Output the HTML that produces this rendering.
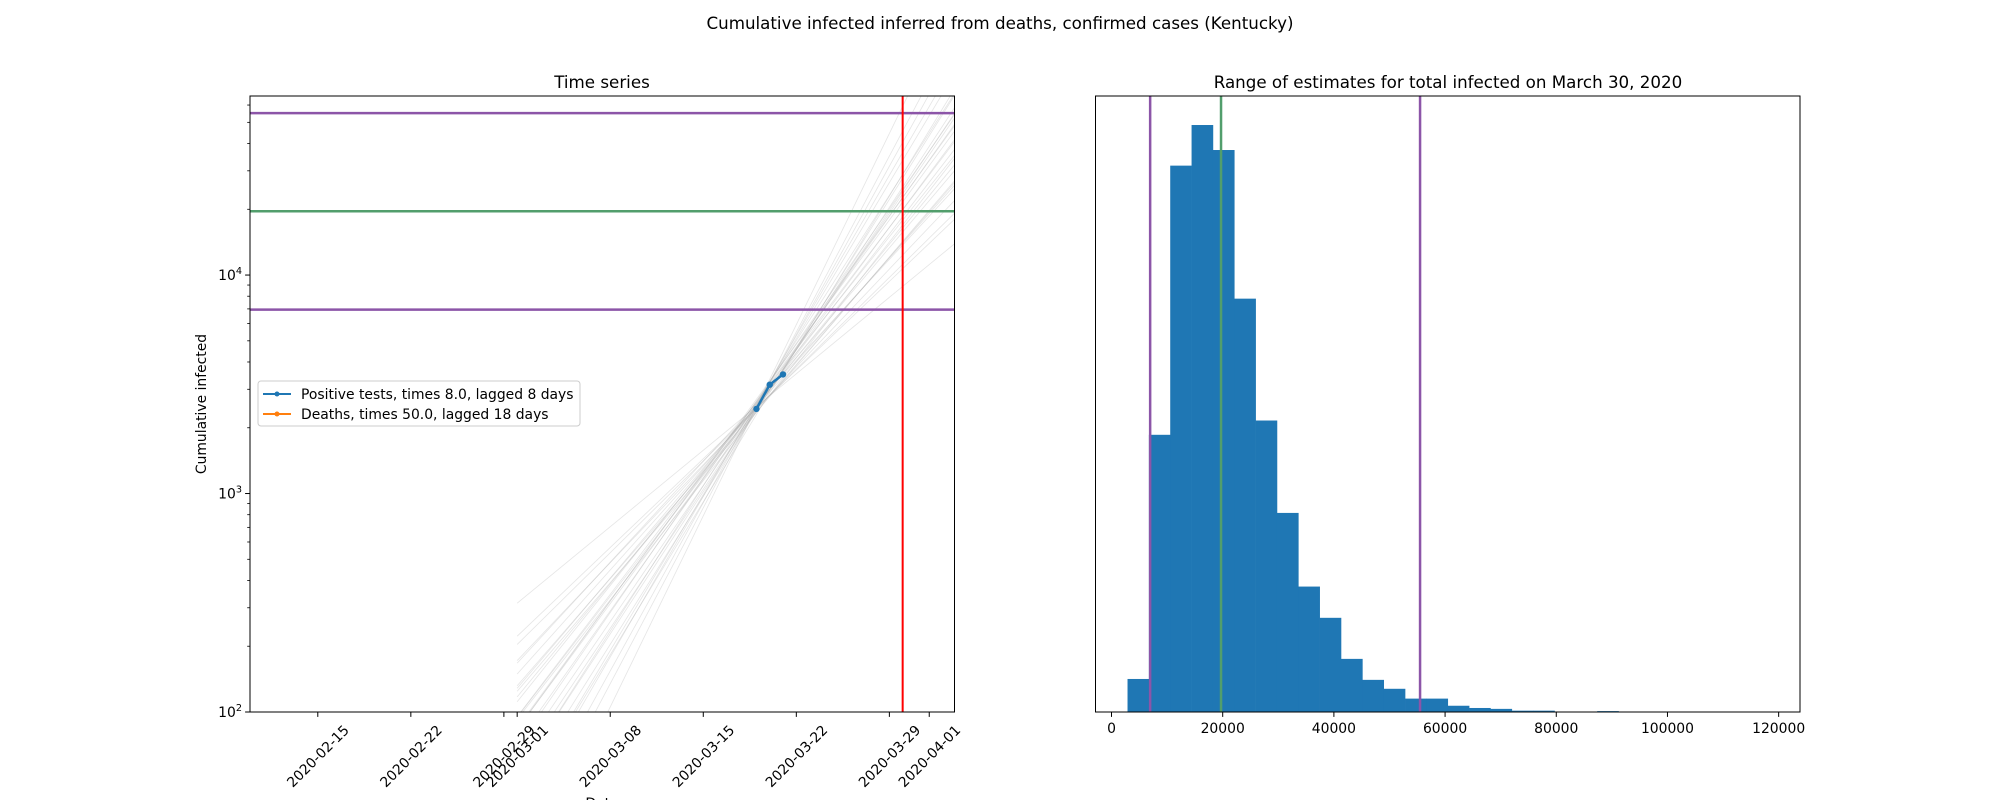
<!DOCTYPE html>
<html><head><meta charset="utf-8"><style>
body{margin:0;background:#fff;overflow:hidden}
svg{display:block;font-family:"DejaVu Sans","Liberation Sans",sans-serif}
</style></head><body>
<svg id="fig" width="2000" height="800" viewBox="0 0 2000 800" xmlns="http://www.w3.org/2000/svg">
<text x="1000" y="29" font-size="16.7" text-anchor="middle">Cumulative infected inferred from deaths, confirmed cases (Kentucky)</text>
<text x="602" y="88" font-size="16.7" text-anchor="middle">Time series</text>
<text x="1448" y="88" font-size="16.7" text-anchor="middle">Range of estimates for total infected on March 30, 2020</text>
<g id="left"></g>
<g id="right"></g>
</svg>
<script>
// ---- left chart data ----
const dateTickLabels = ["2020-02-15","2020-02-22","2020-02-29","2020-03-01","2020-03-08","2020-03-15","2020-03-22","2020-03-29","2020-04-01"];
const dateTickDays = [0,7,14,15,22,29,36,43,46]; // days since 2020-02-15
const posDays = [33,34,35];
const posValues = [2440,3150,3510];
const hLinesLeft = [55100,19600,6950];
const redLineDay = 44;
const fitPivotDay = 33;
const fitPivotValues = [2500,2400,2600,2450,2550,2350,2650,2500,2480,2520,2420,2580,2300,2700,2500,2460,2540,2380,2620,2500,2440,2560,2400,2600,2500,2470,2530,2360,2640,2500];
const fitSlopes = [0.082,0.070,0.095,0.060,0.105,0.078,0.088,0.050,0.115,0.074,0.091,0.066,0.100,0.084,0.125,0.058,0.072,0.097,0.080,0.110,0.064,0.086,0.093,0.076,0.068,0.089,0.102,0.071,0.083,0.079];

// ---- right chart data ----
const binStart = 2880, binWidth = 3840;
const binCounts = [74,621,1224,1315,1259,926,653,446,281,211,119,72,52,30,30,14,9,7,3,3,1,0,2,0,0,0,0,0,0,1];
const histTickValues = [0,20000,40000,60000,80000,100000,120000];
const histVLines = [6950,19700,55500];

const NS="http://www.w3.org/2000/svg";
function mk(parent,tag,attrs,text){const e=document.createElementNS(NS,tag);for(const k in attrs)e.setAttribute(k,attrs[k]);if(text!==undefined)e.textContent=text;parent.appendChild(e);return e;}

const L={x0:250,x1:954.5,y0:96,y1:712};
const dMin=-5.1,dMax=47.9, lMin=2, lMax=Math.log10(66000);
const xL=d=>L.x0+(d-dMin)/(dMax-dMin)*(L.x1-L.x0);
const yL=v=>L.y1-(Math.log10(v)-lMin)/(lMax-lMin)*(L.y1-L.y0);
const gl=document.getElementById('left');
const cp=mk(gl,'clipPath',{id:'clipL'});
mk(cp,'rect',{x:L.x0,y:L.y0,width:L.x1-L.x0,height:L.y1-L.y0});
const plotL=mk(gl,'g',{'clip-path':'url(#clipL)'});
fitSlopes.forEach((s,i)=>{
  const pv=Math.log10(fitPivotValues[i]);
  const f=d=>Math.pow(10,pv+s*(d-fitPivotDay));
  const ln=mk(plotL,'line',{x1:xL(15),y1:yL(f(15)),x2:xL(dMax),y2:yL(f(dMax)),stroke:'#aaa',"stroke-opacity":0.3,"stroke-width":0.8});
  
  
});
const hcol=['#8c55a8','#529e6c','#8c55a8'];
hLinesLeft.forEach((v,i)=>{
  const ln=mk(plotL,'line',{x1:L.x0,x2:L.x1,y1:yL(v),y2:yL(v),stroke:hcol[i],"stroke-width":2.5});
  
  
});
const rl=mk(plotL,'line',{x1:xL(redLineDay),x2:xL(redLineDay),y1:L.y0,y2:L.y1,stroke:'#f00',"stroke-width":2});


const pts=posDays.map((d,i)=>xL(d)+','+yL(posValues[i])).join(' ');
const pl=mk(plotL,'polyline',{points:pts,fill:'none',stroke:'#1f77b4',"stroke-width":2.5});


posDays.forEach((d,i)=>{const c=mk(plotL,'circle',{cx:xL(d),cy:yL(posValues[i]),r:3.2,fill:'#1f77b4'});
  
  });
mk(gl,'rect',{x:L.x0,y:L.y0,width:L.x1-L.x0,height:L.y1-L.y0,fill:'none',stroke:'#000',"stroke-width":1});
for(let e=2;e<=4;e++){for(let m=1;m<10;m++){const v=m*Math.pow(10,e);if(v>66000)break;const y=yL(v);
  mk(gl,'line',{x1:L.x0,x2:L.x0-(m===1?4.9:2.8),y1:y,y2:y,stroke:'#000',"stroke-width":m===1?1:0.8});
  if(m===1){const t=mk(gl,'text',{x:L.x0-8,y:y+5,"font-size":13.9,"text-anchor":"end"});
   t.appendChild(document.createTextNode('10'));mk(t,'tspan',{dy:-6,"font-size":9.7},String(e));}}}
dateTickDays.forEach((d,i)=>{const x=xL(d);
  mk(gl,'line',{x1:x,x2:x,y1:L.y1,y2:L.y1+4.9,stroke:'#000'});
  const cy=L.y1+44;
  const t=mk(gl,'text',{x:x,y:cy+5,"font-size":13.9,"text-anchor":"middle",transform:`rotate(-45 ${x} ${cy})`},dateTickLabels[i]);
  
  });
mk(gl,'text',{x:602,y:808,"font-size":13.9,"text-anchor":"middle",},'Date');
mk(gl,'text',{x:206,y:404,"font-size":13.9,"text-anchor":"middle",transform:'rotate(-90 206 404)',},'Cumulative infected');
const lg=mk(gl,'g',{});
mk(lg,'rect',{x:258,y:381,width:322,height:45,rx:3,fill:'#fff',"fill-opacity":0.8,stroke:'#ccc'});
[['#1f77b4','Positive tests, times 8.0, lagged 8 days',394],['#ff7f0e','Deaths, times 50.0, lagged 18 days',414]].forEach(([c,s,y])=>{
  mk(lg,'line',{x1:263,x2:291,y1:y,y2:y,stroke:c,"stroke-width":2});mk(lg,'circle',{cx:277,cy:y,r:2.5,fill:c});
  mk(lg,'text',{x:301,y:y+5,"font-size":13.9,},s);});

const R={x0:1095.5,x1:1800,y0:96,y1:712};
const vMin=-2880,vMax=123840,cMax=1380;
const xR=v=>R.x0+(v-vMin)/(vMax-vMin)*(R.x1-R.x0);
const yR=c=>R.y1-c/cMax*(R.y1-R.y0);
const gr=document.getElementById('right');
binCounts.forEach((c,i)=>{if(c<=0)return;const a=binStart+i*binWidth;
  const r=mk(gr,'rect',{x:xR(a),y:yR(c),width:xR(a+binWidth)-xR(a)+0.3,height:R.y1-yR(c),fill:'#1f77b4'});
  
  });
histVLines.forEach((v,i)=>{const ln=mk(gr,'line',{x1:xR(v),x2:xR(v),y1:R.y0,y2:R.y1,stroke:i===1?'#529e6c':'#8c55a8',"stroke-width":2.5});
  
  });
mk(gr,'rect',{x:R.x0,y:R.y0,width:R.x1-R.x0,height:R.y1-R.y0,fill:'none',stroke:'#000'});
histTickValues.forEach(v=>{const x=xR(v);mk(gr,'line',{x1:x,x2:x,y1:R.y1,y2:R.y1+4.9,stroke:'#000'});
  const t=mk(gr,'text',{x:x,y:R.y1+21,"font-size":13.9,"text-anchor":"middle"},String(v));
  
  });
</script>
</body></html>
